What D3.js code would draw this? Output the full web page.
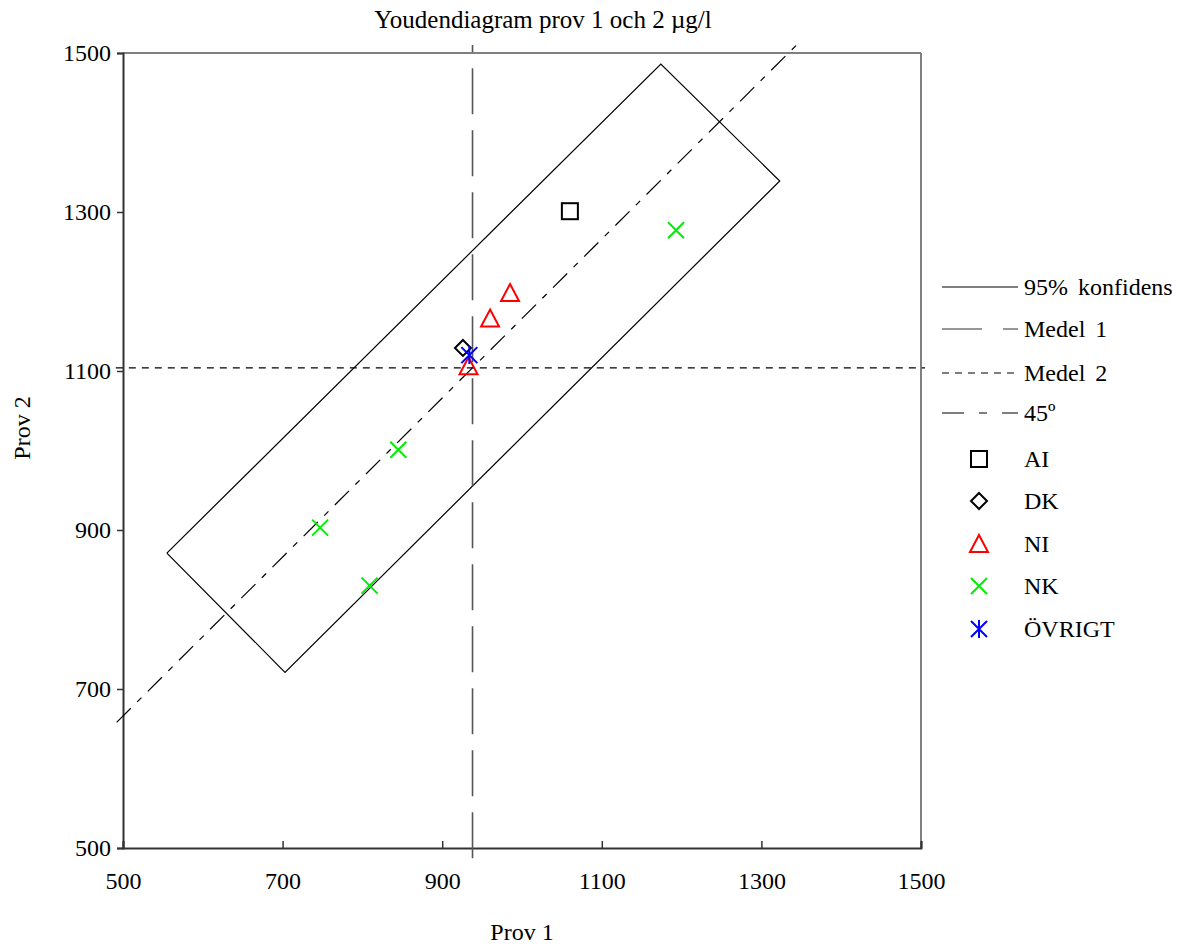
<!DOCTYPE html>
<html>
<head>
<meta charset="utf-8">
<script src="https://cdn.jsdelivr.net/npm/d3@7"></script>
<style>
  body { margin: 0; background: #fff; }
  svg text { font-family: "Liberation Serif", "Times New Roman", serif; fill: #000; }
</style>
</head>
<body>
<div id="chart"></div>
<script>
// tick values on both axes
const ticks = [500, 700, 900, 1100, 1300, 1500];

// group names and their points [prov 1, prov 2]
const groups = ["AI", "DK", "NI", "NK", "ÖVRIGT"];
const aiPoints = [[1060, 1301]];
const dkPoints = [[926, 1129]];
const niPoints = [[985, 1198], [960, 1166], [933, 1106]];
const nkPoints = [[1193, 1277], [845, 1001], [747, 903], [809, 830]];
const ovrigtPoints = [[934, 1120]];

// mean values and reference lines
const medel1 = 938;
const medel2 = 1104;
const medel1Span = [487, 1510];
const medel2Span = [491, 1505];
const diagSpan = [492, 1346];
// 95% confidence rectangle corners
const confidence = [[555, 871], [703, 721], [1323, 1339], [1174, 1486]];

const width = 1195, height = 950;
const margin = {left: 123, right: 274, top: 53, bottom: 102};

const x = d3.scaleLinear().domain([500, 1500]).range([margin.left, width - margin.right]);
const y = d3.scaleLinear().domain([500, 1500]).range([height - margin.bottom, margin.top]);

const svg = d3.select("#chart").append("svg")
    .attr("width", width)
    .attr("height", height);

const line = d3.line().x(d => x(d[0])).y(d => y(d[1]));

// frame: top and right in grey
svg.append("line")
    .attr("x1", x(500)).attr("x2", x(1500))
    .attr("y1", y(1500)).attr("y2", y(1500))
    .attr("stroke", "#808080").attr("stroke-width", 2);
svg.append("line")
    .attr("x1", x(1500)).attr("x2", x(1500))
    .attr("y1", y(500)).attr("y2", y(1500))
    .attr("stroke", "#808080").attr("stroke-width", 2);

// axes
const yAxis = svg.append("g")
    .attr("transform", `translate(${x(500)},0)`)
    .call(d3.axisLeft(y).tickValues(ticks).tickSize(6).tickFormat(d3.format("d")));
const xAxis = svg.append("g")
    .attr("transform", `translate(0,${y(500)})`)
    .call(d3.axisBottom(x).tickValues(ticks).tickSize(-7).tickFormat(d3.format("d")));

[xAxis, yAxis].forEach(a => {
  a.select(".domain").attr("stroke", "#333").attr("stroke-width", 2);
  a.selectAll(".tick line").attr("stroke", "#333").attr("stroke-width", 1.5);
  a.selectAll(".tick text")
    .style("font-family", '"Liberation Serif", serif')
    .style("font-size", "24px")
    .attr("fill", "#000");
});
yAxis.selectAll(".tick text").attr("x", -12);
xAxis.selectAll(".tick text").attr("y", 24);

// confidence rectangle
svg.append("path")
    .datum(confidence.concat([confidence[0]]))
    .attr("d", line)
    .attr("fill", "none")
    .attr("stroke", "#000")
    .attr("stroke-width", 1.2);

// Medel 1 (vertical)
svg.append("path")
    .datum([[medel1, medel1Span[0]], [medel1, medel1Span[1]]])
    .attr("d", line)
    .attr("stroke", "#555")
    .attr("stroke-width", 1.6)
    .attr("stroke-dasharray", "46,16");

// Medel 2 (horizontal)
svg.append("path")
    .datum([[medel2Span[0], medel2], [medel2Span[1], medel2]])
    .attr("d", line)
    .attr("stroke", "#000")
    .attr("stroke-width", 1.2)
    .attr("stroke-dasharray", "7,6");

// 45 degree line through the means
svg.append("path")
    .datum(diagSpan.map(v => [v, v + (medel2 - medel1)]))
    .attr("d", line)
    .attr("stroke", "#000")
    .attr("stroke-width", 1.2)
    .attr("stroke-dasharray", "20,9,6,9");

// marker shapes
const markerStyle = {
  "AI": {color: "#000", draw: g => g.append("rect").attr("x", -8).attr("y", -8).attr("width", 16).attr("height", 16)},
  "DK": {color: "#000", draw: g => g.append("path").attr("d", "M0,-8L8,0L0,8L-8,0Z")},
  "NI": {color: "#ff0000", draw: g => g.append("path").attr("d", "M0,-9L9,8L-9,8Z")},
  "NK": {color: "#00ee00", draw: g => g.append("path").attr("d", "M-8,-8L8,8M-8,8L8,-8")},
  "ÖVRIGT": {color: "#0000ff", draw: g => g.append("path").attr("d", "M0,-9L0,9M-8,-8L8,8M-8,8L8,-8")}
};
const groupPoints = {"AI": aiPoints, "DK": dkPoints, "NI": niPoints, "NK": nkPoints, "ÖVRIGT": ovrigtPoints};

function marker(g, name) {
  const s = markerStyle[name];
  s.draw(g).attr("fill", "none").attr("stroke", s.color).attr("stroke-width", 2);
}

groups.forEach(name => {
  svg.append("g").selectAll("g")
    .data(groupPoints[name])
    .join("g")
    .attr("transform", d => `translate(${x(d[0])},${y(d[1])})`)
    .each(function() { marker(d3.select(this), name); });
});

// legend
const legend = svg.append("g").attr("transform", "translate(942,0)");
const lineItems = [
  {label: "95% konfidens", y: 287, stroke: "#000", dash: null},
  {label: "Medel 1", y: 329, stroke: "#333", dash: "40,21"},
  {label: "Medel 2", y: 373, stroke: "#000", dash: "7,6"},
  {label: "45º", y: 413, stroke: "#000", dash: "22,15,8,15"}
];
lineItems.forEach(it => {
  legend.append("line")
    .attr("x1", 0).attr("x2", 76)
    .attr("y1", it.y).attr("y2", it.y)
    .attr("stroke", it.stroke)
    .attr("stroke-width", 1.2)
    .attr("stroke-dasharray", it.dash);
  legend.append("text")
    .attr("x", 82).attr("y", it.y)
    .attr("dy", "0.35em")
    .style("font-size", "24px")
    .style("word-spacing", "4px")
    .text(it.label);
});
const markerRows = [459, 501, 544, 586, 629];
groups.forEach((name, i) => {
  const g = legend.append("g").attr("transform", `translate(37,${markerRows[i]})`);
  marker(g, name);
  legend.append("text")
    .attr("x", 82).attr("y", markerRows[i])
    .attr("dy", "0.35em")
    .style("font-size", "24px")
    .text(name);
});

// titles
svg.append("text")
    .attr("x", 543).attr("y", 19)
    .attr("dy", "0.35em")
    .attr("text-anchor", "middle")
    .style("font-size", "25px")
    .text("Youdendiagram prov 1 och 2 µg/l");

svg.append("text")
    .attr("x", (x(500) + x(1500)) / 2).attr("y", 932)
    .attr("dy", "0.35em")
    .attr("text-anchor", "middle")
    .style("font-size", "24px")
    .text("Prov 1");

svg.append("text")
    .attr("transform", "translate(22,428) rotate(-90)")
    .attr("dy", "0.35em")
    .attr("text-anchor", "middle")
    .style("font-size", "24px")
    .text("Prov 2");
</script>
</body>
</html>
